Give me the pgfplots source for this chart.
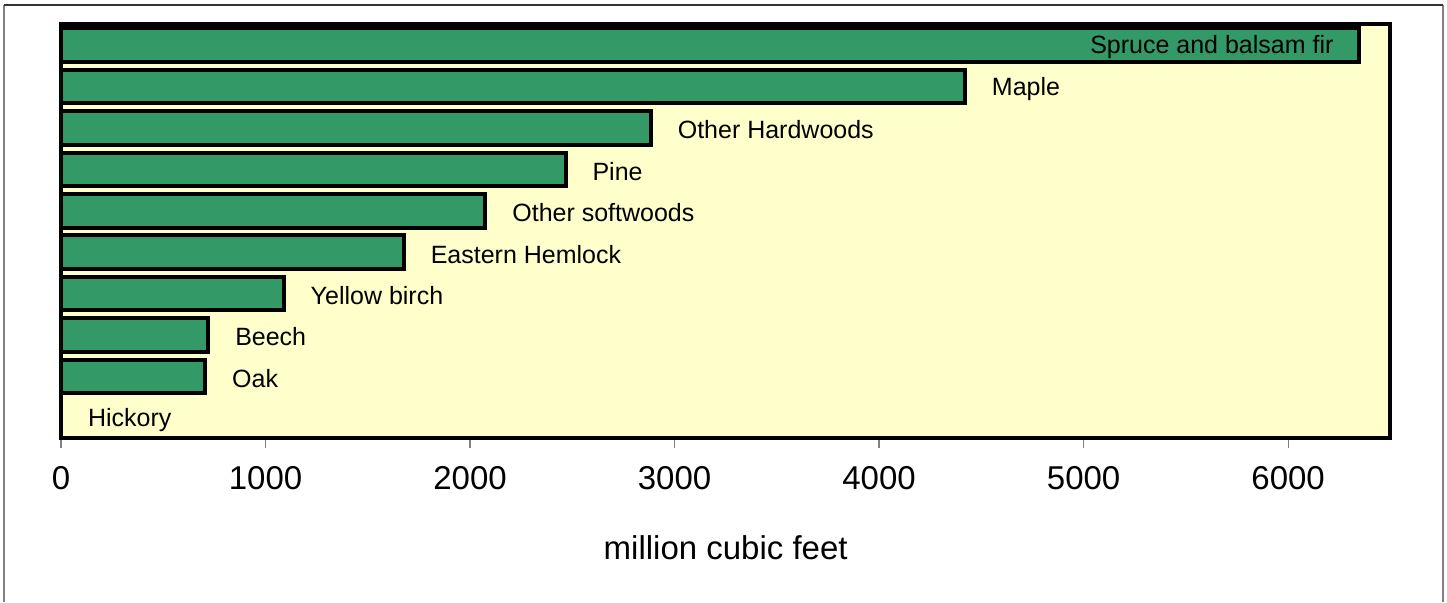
\documentclass[border=0pt]{standalone}
\usepackage{pgfplots}
\pgfplotsset{compat=1.18}
\usepackage{pgfplotstable}
\usepackage{fontspec}
\setmainfont{Liberation Sans}
\definecolor{bargreen}{RGB}{51,153,102}
\definecolor{plotbg}{RGB}{255,255,204}

% species volume, million cubic feet (top to bottom)
\pgfplotstableread[col sep=comma]{
i,v,name
1,4420,Maple
2,2884,Other Hardwoods
3,2467,Pine
4,2075,Other softwoods
5,1676,Eastern Hemlock
6,1089,Yellow birch
7,720,Beech
8,705,Oak
9,0,Hickory
}\species
\pgfplotstableread[col sep=comma]{
i,v,name
0,6344,Spruce and balsam fir
}\spruce

\begin{document}
\begin{tikzpicture}
% page size and outer frame
\path (-30.5pt,-81.75pt) rectangle (693pt,219.25pt);
\draw[gray, line width=1pt] (-28.5pt,-81.75pt) -- (-28.5pt,216.75pt);
\draw[gray, line width=1pt] (691pt,-81.75pt) -- (691pt,216.75pt);
\draw[black!80, line width=0.6pt] (-28.5pt,216.75pt) -- (691pt,216.75pt);
\begin{axis}[
  at={(0,0)}, anchor=south west,
  scale only axis,
  width=664.7pt, height=207pt,
  xmin=0, xmax=6500,
  ymin=-0.5, ymax=9.5,
  y dir=reverse,
  axis background/.style={fill=plotbg},
  axis line style={black, line width=2pt},
  xtick={0,1000,...,6000},
  ytick=\empty,
  xtick pos=bottom,
  tick align=outside,
  major tick length=5pt,
  tick style={gray, line width=0.6pt},
  xticklabel style={font=\fontsize{16.5}{18}\selectfont, anchor=base, yshift=-20.75pt},
  /pgf/number format/assume math mode=true,
  /pgf/number format/set thousands separator={},
  xlabel={million cubic feet},
  xlabel style={font=\fontsize{16.5}{18}\selectfont, at={(axis description cs:0.5,0)}, anchor=base, yshift=-60.75pt, inner sep=0pt},
]
\addplot[xbar, bar shift=0pt, bar width=16.8pt, fill=bargreen, draw=black, line width=2pt,
  point meta=explicit symbolic, nodes near coords,
  every node near coord/.append style={anchor=west, inner sep=0pt, xshift=12.5pt, yshift=-1pt, font=\fontsize{12.5}{14}\selectfont, text=black}]
  table[x=v, y=i, meta=name] {\species};
\addplot[xbar, bar shift=0pt, bar width=16.8pt, fill=bargreen, draw=black, line width=2pt,
  point meta=explicit symbolic, nodes near coords,
  every node near coord/.append style={anchor=east, inner sep=0pt, xshift=-11.5pt, yshift=-1pt, font=\fontsize{12.5}{14}\selectfont, text=black}]
  table[x=v, y=i, meta=name] {\spruce};
\end{axis}
\end{tikzpicture}
\end{document}
